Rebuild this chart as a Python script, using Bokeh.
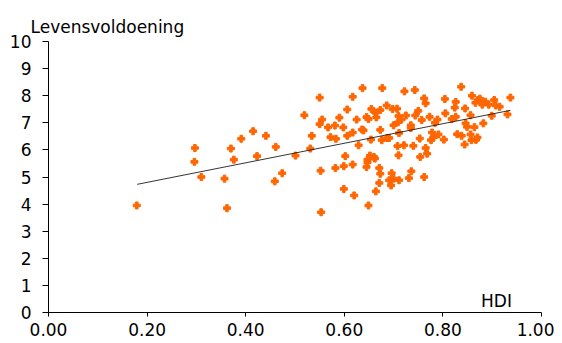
from bokeh.plotting import figure
from bokeh.models import Range1d, FixedTicker, Label, ColumnDataSource
from bokeh.embed import file_html
from bokeh.resources import INLINE

hdi = [0.179, 0.297, 0.296, 0.310, 0.357, 0.362, 0.370, 0.376, 0.391, 0.415,
       0.423, 0.441, 0.461, 0.459, 0.474, 0.501, 0.519, 0.531, 0.534, 0.550,
       0.550, 0.555, 0.552, 0.553, 0.567, 0.572, 0.581, 0.583, 0.582, 0.590,
       0.598, 0.599, 0.602, 0.599, 0.606, 0.606, 0.617, 0.617, 0.617, 0.620,
       0.625, 0.629, 0.637, 0.636, 0.639, 0.645, 0.649, 0.645, 0.647, 0.647,
       0.649, 0.652, 0.655, 0.654, 0.660, 0.662, 0.663, 0.665, 0.664, 0.673,
       0.673, 0.671, 0.673, 0.671, 0.677, 0.676, 0.686, 0.687, 0.691, 0.691,
       0.695, 0.696, 0.698, 0.700, 0.700, 0.707, 0.708, 0.710, 0.709, 0.710,
       0.711, 0.711, 0.716, 0.722, 0.721, 0.725, 0.731, 0.735, 0.735, 0.736,
       0.740, 0.743, 0.744, 0.750, 0.753, 0.754, 0.757, 0.762, 0.765, 0.765,
       0.762, 0.768, 0.773, 0.776, 0.778, 0.781, 0.784, 0.789, 0.791, 0.802,
       0.804, 0.805, 0.818, 0.824, 0.826, 0.826, 0.829, 0.837, 0.838, 0.844,
       0.845, 0.846, 0.849, 0.856, 0.856, 0.858, 0.859, 0.864, 0.866, 0.870,
       0.867, 0.871, 0.875, 0.880, 0.882, 0.886, 0.893, 0.899, 0.904, 0.907,
       0.915, 0.931, 0.937]
satisfaction = [3.95, 6.07, 5.56, 5.00, 4.94, 3.85, 6.05, 5.64, 6.41, 6.69,
                5.77, 6.52, 6.11, 4.84, 5.14, 5.79, 7.28, 6.05, 6.52, 7.93,
                6.95, 7.12, 5.23, 3.70, 6.83, 6.47, 6.90, 6.41, 5.33, 7.19,
                6.83, 5.40, 5.77, 4.56, 7.49, 6.52, 7.96, 6.64, 5.46, 4.32,
                7.12, 6.17, 8.28, 6.75, 6.72, 7.21, 7.14, 5.37, 5.64, 5.54,
                3.95, 5.79, 7.51, 6.38, 5.74, 5.68, 7.37, 7.20, 4.47, 6.74,
                7.47, 5.33, 5.12, 4.78, 8.28, 6.36, 7.64, 6.44, 6.44, 4.88,
                4.69, 5.14, 7.51, 6.91, 4.94, 7.52, 6.14, 7.25, 7.02, 5.80,
                6.62, 4.88, 7.12, 8.16, 6.17, 7.27, 4.96, 6.91, 6.81, 5.21,
                6.15, 8.21, 7.27, 7.44, 6.42, 5.74, 7.10, 7.90, 7.72, 6.07,
                5.00, 5.86, 7.22, 6.36, 6.64, 6.46, 7.00, 7.12, 6.57, 6.38,
                7.88, 7.35, 7.14, 7.56, 7.22, 7.77, 6.58, 8.33, 6.52, 6.20,
                7.53, 6.98, 6.85, 7.28, 6.57, 6.36, 8.00, 6.84, 7.74, 6.46,
                6.37, 7.84, 7.89, 7.67, 6.98, 7.78, 7.67, 7.26, 7.84, 7.64,
                7.59, 7.31, 7.93]
trend_x = [0.18, 0.937]
trend_y = [4.73, 7.46]
x_ticks = [0.0, 0.2, 0.4, 0.6, 0.8, 1.0]
y_ticks = list(range(0, 11))
y_title = "Levensvoldoening"
x_title = "HDI"

FONT = "DejaVu Sans"
ORANGE = "#FF6600"

p = figure(width=554, height=340, output_backend="svg", toolbar_location=None,
           x_range=Range1d(0, 1), y_range=Range1d(0, 10),
           min_border_left=48, min_border_right=13, min_border_top=41,
           min_border_bottom=28, title=y_title)
p.title.text_font = FONT
p.title.text_font_size = "17px"
p.title.text_font_style = "normal"
p.title.text_color = "black"
p.title.align = "left"
p.title.offset = -18
p.title.standoff = 10
p.outline_line_color = None
p.grid.visible = False
p.background_fill_color = "white"
p.border_fill_color = "white"

src = ColumnDataSource(dict(x=hdi, y=satisfaction))
p.scatter("x", "y", source=src, marker="plus", size=7,
          fill_color=ORANGE, line_color=ORANGE, line_width=1)
p.line(trend_x, trend_y, line_color="black", line_width=0.8)

p.xaxis.ticker = FixedTicker(ticks=x_ticks)
p.xaxis.major_label_overrides = {t: f"{t:.2f}" for t in x_ticks}
p.yaxis.ticker = FixedTicker(ticks=y_ticks)
for ax in (p.xaxis, p.yaxis):
    ax.minor_tick_line_color = None
    ax.major_tick_in = 0
    ax.axis_line_color = "black"
    ax.major_tick_line_color = "black"
    ax.major_label_text_font = FONT
    ax.major_label_text_font_size = "17px"
    ax.major_label_text_color = "black"
p.xaxis.major_tick_out = 4
p.xaxis.major_label_standoff = 6
p.yaxis.major_tick_out = 6
p.yaxis.major_label_standoff = 11

p.add_layout(Label(x=0.94, y=0.42, text=x_title, text_font=FONT,
                   text_font_size="17px", text_color="black",
                   text_baseline="alphabetic", text_align="right"))

open("out.html", "w").write(file_html(p, INLINE))
